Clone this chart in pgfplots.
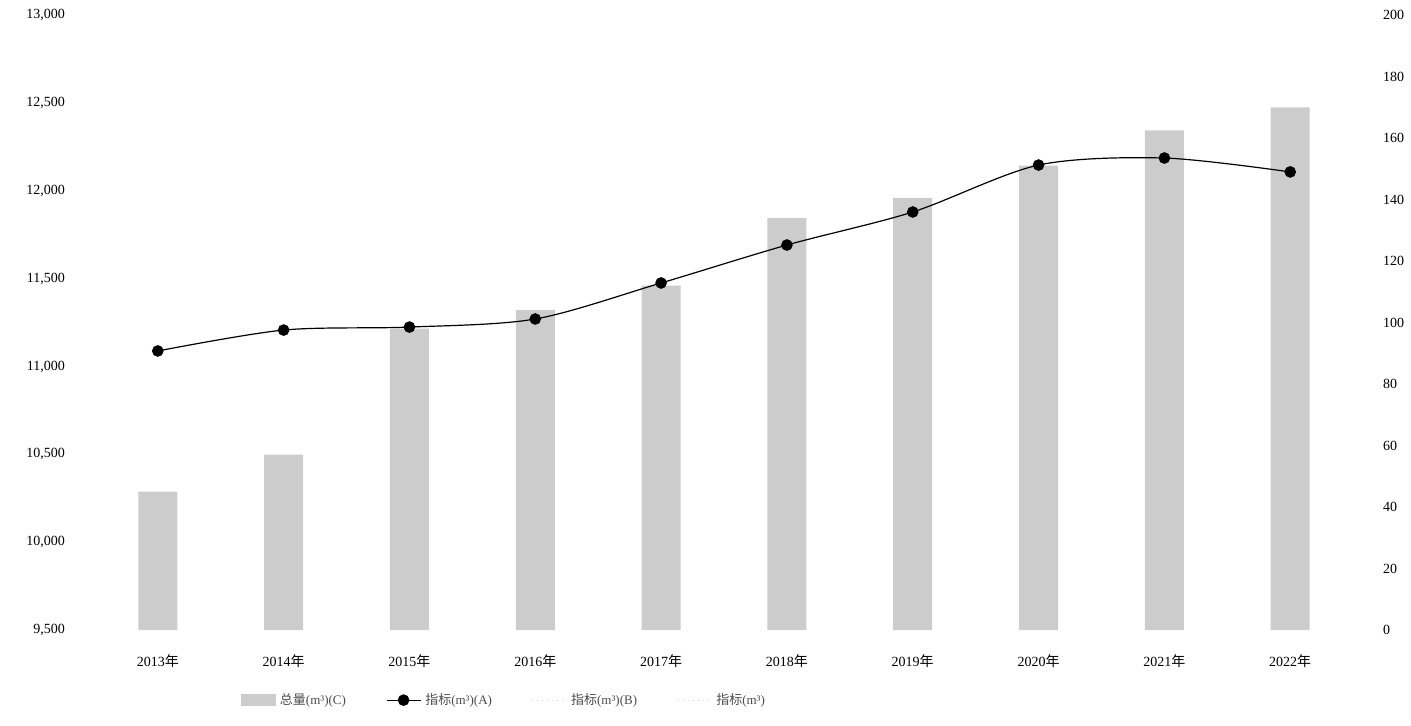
\documentclass[border=0pt]{standalone}
\usepackage{pgfplots}
\pgfplotsset{compat=1.18}
\usepackage{fontspec}
\setmainfont{Liberation Serif}
\newfontfamily\cjk{Noto Sans CJK SC}

\pgfplotstableread{
x bar line
0 45 11088
1 57 11207
2 98 11224
3 104 11270
4 112 11475
5 134 11691
6 140.5 11879
7 151 12146
8 162.5 12186
9 170 12107
}\datatable

\begin{document}
\begin{tikzpicture}
\useasboundingbox (-38pt,-47.5pt) rectangle (667.5pt,315pt);
\begin{axis}[
  at={(0pt,0pt)}, anchor=south west,
  scale only axis, width=648pt, height=307.5pt,
  xmin=-0.65, xmax=9.65, ymin=0, ymax=200,
  hide x axis,
  axis y line*=right,
  axis line style={draw=none}, major tick length=0pt,
  ytick={0,20,...,200},
  /pgf/number format/assume math mode=true,
  yticklabel style={xshift=2pt},
  font=\fontsize{7}{8}\selectfont,
]
\addplot[ybar, bar width=19.5pt, fill=black!20, draw=none] table[x=x,y=bar]{\datatable};
\end{axis}
\begin{axis}[
  at={(0pt,0pt)}, anchor=south west,
  scale only axis, width=648pt, height=307.5pt,
  xmin=-0.65, xmax=9.65, ymin=9500, ymax=13000,
  axis y line*=left, axis x line*=bottom,
  axis line style={draw=none}, major tick length=0pt,
  xtick={0,...,9},
  xticklabels={2013{\cjk 年},2014{\cjk 年},2015{\cjk 年},2016{\cjk 年},2017{\cjk 年},2018{\cjk 年},2019{\cjk 年},2020{\cjk 年},2021{\cjk 年},2022{\cjk 年}},
  xticklabel style={yshift=-9pt},
  ytick={9500,10000,...,13000},
  scaled y ticks=false,
  /pgf/number format/1000 sep={,},
  /pgf/number format/fixed,
  /pgf/number format/assume math mode=true,
  yticklabel style={xshift=-2pt},
  font=\fontsize{7}{8}\selectfont,
  legend columns=4,
  legend style={at={(0.331,-0.114)}, anchor=center, draw=none, fill=none,
    font=\fontsize{6.5}{8}\selectfont, text=black!70,
    /tikz/every even column/.append style={column sep=18pt}},
  legend cell align=left,
]
\addlegendimage{area legend, fill=black!20, draw=black!20}
\addlegendentry{{\cjk 总量}(m³)(C)}
\addplot[black, line width=0.6pt, smooth, mark=*, mark size=2.6pt, mark options={fill=black}] table[x=x,y=line]{\datatable};
\addlegendentry{{\cjk 指标}(m³)(A)}
\addlegendimage{black!15, line width=0.5pt, dotted}
\addlegendentry{{\cjk 指标}(m³)(B)}
\addlegendimage{black!15, line width=0.5pt, dotted}
\addlegendentry{{\cjk 指标}(m³)}
\end{axis}
\end{tikzpicture}
\end{document}
